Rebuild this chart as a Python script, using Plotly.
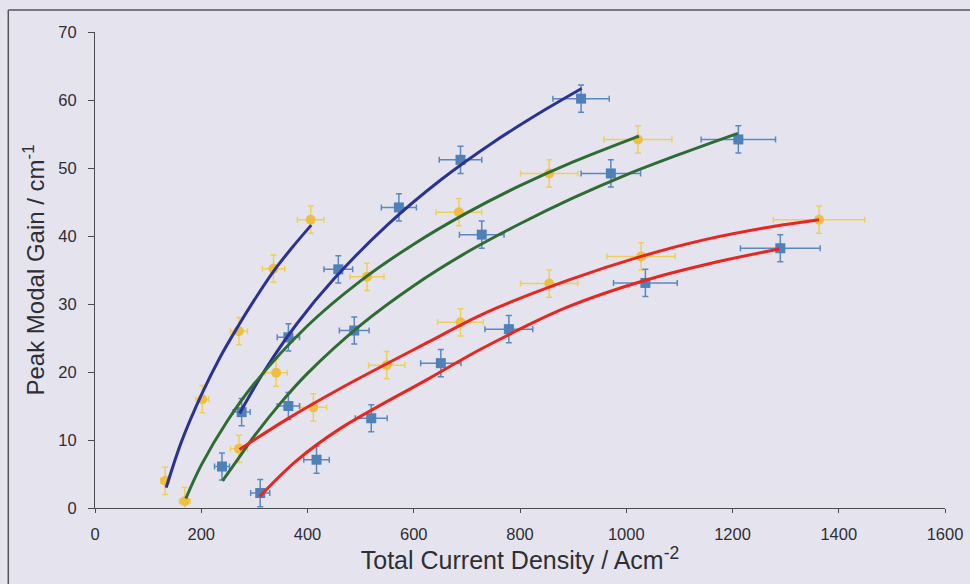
import plotly.graph_objects as go

# Measured peak modal gain vs total current density
yellow_x = [132, 169, 202, 271, 336, 406, 271, 341, 411, 512, 685, 855, 1022, 549, 688, 855, 1028, 1363]
yellow_y = [4.0, 1.0, 16.0, 26.0, 35.2, 42.4, 8.7, 19.9, 14.8, 34.0, 43.5, 49.2, 54.2, 21.0, 27.3, 33.0, 37.0, 42.4]
yellow_xerr = [8, 10, 12, 16, 21, 25, 16, 21, 25, 32, 43, 54, 64, 34, 43, 54, 64, 86]

blue_x = [239, 276, 364, 458, 572, 688, 915, 364, 488, 728, 971, 1211, 311, 417, 520, 651, 1036, 779, 1290]
blue_y = [6.1, 14.1, 25.1, 35.1, 44.2, 51.2, 60.2, 15.0, 26.1, 40.2, 49.2, 54.2, 2.2, 7.1, 13.2, 21.3, 33.1, 26.3, 38.2]
blue_xerr = [14, 16, 21, 27, 33, 40, 53, 21, 28, 42, 56, 70, 18, 24, 30, 38, 60, 45, 75]

gain_err = 2.0

# Fitted gain curves
fit1_x = [134, 163, 200, 235, 269, 300, 335, 370, 407]
fit1_y = [3.0, 9.8, 16.6, 22.1, 26.7, 30.6, 34.7, 38.2, 41.6]

fit2_x = [272, 320, 380, 450, 550, 650, 750, 850, 916]
fit2_y = [13.9, 20.3, 27.1, 33.7, 41.6, 48.2, 53.8, 58.7, 61.7]

fit3_x = [171, 200, 250, 300, 400, 500, 600, 700, 800, 900, 1024]
fit3_y = [1.4, 6.3, 12.9, 18.3, 26.8, 33.4, 38.8, 43.4, 47.4, 50.9, 54.7]

fit4_x = [240, 270, 300, 350, 400, 500, 600, 700, 800, 900, 1000, 1100, 1210]
fit4_y = [4.0, 7.3, 10.6, 15.5, 19.8, 26.9, 32.7, 37.6, 41.8, 45.6, 49.0, 52.0, 55.1]

fit5_x = [272, 360, 460, 630, 732, 891, 1028, 1150, 1276, 1363]
fit5_y = [8.6, 13.0, 17.5, 24.5, 28.6, 33.5, 37.0, 39.5, 41.4, 42.4]

fit6_x = [310, 380, 460, 630, 732, 891, 1036, 1160, 1288]
fit6_y = [1.7, 7.0, 11.6, 19.1, 23.6, 29.6, 33.5, 36.0, 38.1]

BG = "#e5e4ee"
AXIS = "#4a4a50"
TXT = "#2e2e34"

fig = go.Figure()

fig.add_trace(go.Scatter(
    x=yellow_x, y=yellow_y, mode="markers",
    marker=dict(symbol="circle", size=10, color="#efbf45", line=dict(width=0)),
    error_x=dict(type="data", array=yellow_xerr, color="#efcf5a", thickness=1.5, width=3),
    error_y=dict(type="constant", value=gain_err, color="#efcf5a", thickness=1.5, width=3),
    showlegend=False, hoverinfo="x+y"))

fig.add_trace(go.Scatter(
    x=blue_x, y=blue_y, mode="markers",
    marker=dict(symbol="square", size=10, color="#4f80b8", line=dict(width=0)),
    error_x=dict(type="data", array=blue_xerr, color="#5a88c4", thickness=1.5, width=3),
    error_y=dict(type="constant", value=gain_err, color="#5a88c4", thickness=1.5, width=3),
    showlegend=False, hoverinfo="x+y"))

fits = [
    (fit1_x, fit1_y, "#2b3296"),
    (fit2_x, fit2_y, "#2b3296"),
    (fit3_x, fit3_y, "#2f6b34"),
    (fit4_x, fit4_y, "#2f6b34"),
    (fit5_x, fit5_y, "#e8261f"),
    (fit6_x, fit6_y, "#e8261f"),
]
for fx, fy, col in fits:
    fig.add_trace(go.Scatter(
        x=fx, y=fy, mode="lines",
        line=dict(color=col, width=3, shape="spline", smoothing=1.0),
        showlegend=False, hoverinfo="skip"))

fig.update_layout(
    width=970, height=584, autosize=False,
    paper_bgcolor=BG, plot_bgcolor=BG,
    margin=dict(l=95, r=25, t=32, b=76),
    font=dict(family="Liberation Sans, Arial, sans-serif", color=TXT),
    xaxis=dict(
        range=[0, 1600], dtick=200, tick0=0, automargin=False,
        showgrid=False, zeroline=False,
        showline=True, linecolor=AXIS, linewidth=1,
        ticks="outside", ticklen=4, tickcolor=AXIS, tickwidth=1,
        ticklabelstandoff=7, ticklabeloverflow="allow",
        tickfont=dict(size=16.5, color=TXT),
        title=dict(text="Total Current Density / Acm<sup>-2</sup>",
                   font=dict(size=25, color=TXT), standoff=2),
    ),
    yaxis=dict(
        range=[0, 70], dtick=10, tick0=0, automargin=False,
        showgrid=False, zeroline=False,
        showline=True, linecolor=AXIS, linewidth=1,
        ticks="outside", ticklen=6, tickcolor=AXIS, tickwidth=1,
        ticklabelstandoff=8,
        tickfont=dict(size=16.5, color=TXT),
        title=dict(text="Peak Modal Gain / cm<sup>-1</sup>",
                   font=dict(size=24, color=TXT), standoff=6),
    ),
    shapes=[
        dict(type="line", xref="paper", yref="paper",
             x0=-0.102, x1=1.03, y0=1.046, y1=1.046,
             line=dict(color="#55555c", width=1.5)),
        dict(type="line", xref="paper", yref="paper",
             x0=-0.102, x1=-0.102, y0=1.046, y1=-0.17,
             line=dict(color="#55555c", width=1.5)),
    ],
)

fig.write_html("out.html")
